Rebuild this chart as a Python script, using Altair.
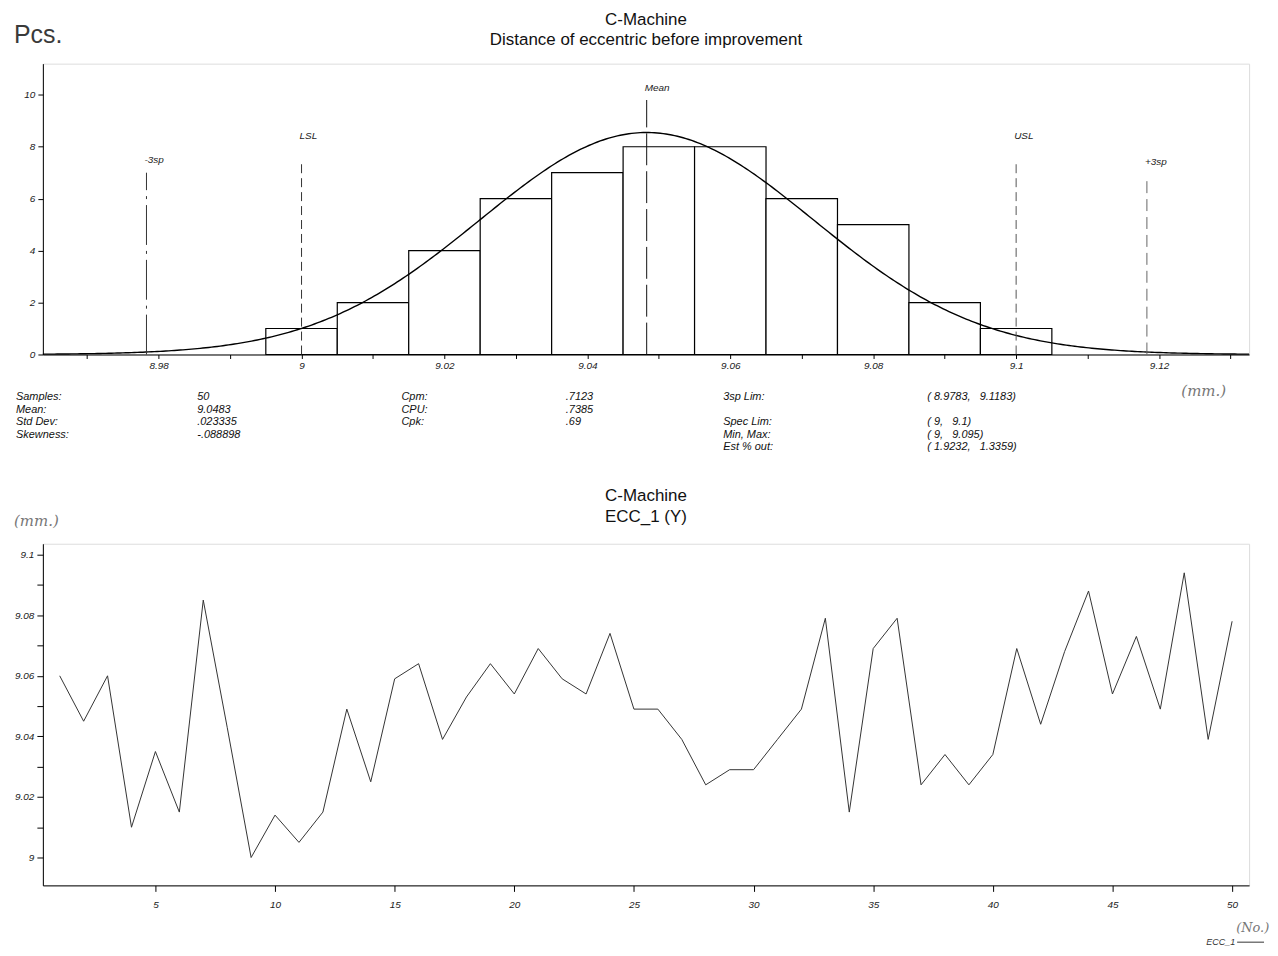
import altair as alt
import pandas as pd

# ---------------- data ----------------
BIN_CENTERS = [9.00, 9.01, 9.02, 9.03, 9.04, 9.05, 9.06, 9.07, 9.08, 9.09, 9.10]
BIN_COUNTS = [1, 2, 4, 6, 7, 8, 8, 6, 5, 2, 1]
BIN_WIDTH = 0.01
N_SAMPLES = 50
MEAN = 9.0483
STD_DEV = 0.023335

REF_NAMES = ["-3sp", "LSL", "Mean", "USL", "+3sp"]
REF_VALUES = [8.9783, 9.0, 9.0483, 9.1, 9.1183]

NB = "\u00a0"
STAT_NAMES_A = ["Samples:", "Mean:", "Std Dev:", "Skewness:"]
STAT_VALUES_A = ["50", "9.0483", ".023335", "-.088898"]
STAT_NAMES_B = ["Cpm:", "CPU:", "Cpk:"]
STAT_VALUES_B = [".7123", ".7385", ".69"]
STAT_NAMES_C = ["3sp Lim:", "Spec Lim:", "Min, Max:", "Est % out:"]
STAT_VALUES_C = [f"({NB}8.9783,{NB}{NB}{NB}9.1183)", f"({NB}9,{NB}{NB}{NB}9.1)",
                 f"({NB}9,{NB}{NB}{NB}9.095)", f"({NB}1.9232,{NB}{NB}{NB}1.3359)"]

HIST_X_TICKS = [8.97, 8.98, 8.99, 9.00, 9.01, 9.02, 9.03, 9.04, 9.05, 9.06,
                9.07, 9.08, 9.09, 9.10, 9.11, 9.12, 9.13]
HIST_Y_TICKS = [0, 1, 2, 3, 4, 5, 6, 7, 8, 9, 10, 11]

SAMPLE_NO = list(range(1, 51))
ECC_1 = [9.060, 9.045, 9.060, 9.010, 9.035, 9.015, 9.085, 9.043, 9.000, 9.014,
         9.005, 9.015, 9.049, 9.025, 9.059, 9.064, 9.039, 9.053, 9.064, 9.054,
         9.069, 9.059, 9.054, 9.074, 9.049, 9.049, 9.039, 9.024, 9.029, 9.029,
         9.039, 9.049, 9.079, 9.015, 9.069, 9.079, 9.024, 9.034, 9.024, 9.034,
         9.069, 9.044, 9.068, 9.088, 9.054, 9.073, 9.049, 9.094, 9.039, 9.078]
RUN_X_TICKS = [5, 10, 15, 20, 25, 30, 35, 40, 45, 50]
RUN_Y_TICKS = [9.00, 9.01, 9.02, 9.03, 9.04, 9.05, 9.06, 9.07, 9.08, 9.09, 9.10]

# ---------------- styles ----------------
FONT = "Liberation Sans"
HAND = "DejaVu Serif"
W = 1211
H1 = 292
H2 = 343
LH = 12.5
STAT_Y = 329

REF_STYLE = {
    "-3sp": dict(top=7.0, label_y=7.5, dash=[40, 6, 3, 6], color="#333"),
    "LSL": dict(top=7.5, label_y=8.4, dash=[9, 5], color="#333"),
    "Mean": dict(top=9.8, label_y=10.25, dash=[32, 6], color="#111"),
    "USL": dict(top=7.5, label_y=8.4, dash=[9, 5], color="#555"),
    "+3sp": dict(top=6.8, label_y=7.4, dash=[12, 6], color="#666"),
}

XS1 = alt.Scale(domain=[8.9638, 9.1326], nice=False, zero=False)
YS1 = alt.Scale(domain=[0, 11.2], nice=False, zero=False)
XS2 = alt.Scale(domain=[0.296, 50.71], nice=False, zero=False)
YS2 = alt.Scale(domain=[8.9908, 9.1036], nice=False, zero=False)

axis_common = dict(grid=False, labelFont=FONT, labelFontStyle="italic", labelFontSize=10,
                   labelColor="#222", tickColor="black", domainColor="black",
                   labelOverlap=False, labelFlush=False, title=None)

x_axis1 = alt.Axis(values=HIST_X_TICKS, tickSize=4, labelPadding=2,
                   labelExpr="round(datum.value*100) % 2 == 0 ? format(datum.value, '.2~f') : ''",
                   **axis_common)
y_axis1 = alt.Axis(values=HIST_Y_TICKS, tickSize=5, labelPadding=3,
                   labelExpr="datum.value % 2 == 0 ? datum.label : ''", **axis_common)
x_axis2 = alt.Axis(values=RUN_X_TICKS, tickSize=6, labelPadding=8, **axis_common)
y_axis2 = alt.Axis(values=RUN_Y_TICKS, tickSize=6, labelPadding=3,
                   labelExpr="round(datum.value*100) % 2 == 0 ? format(datum.value, '.2~f') : ''",
                   **axis_common)

one = pd.DataFrame({"_": [0]})


def text_block(lines, x, y, size=11, style="italic", weight="normal", align="left",
               baseline="top", line_height=LH, color="#111", font=FONT):
    return alt.Chart(one).mark_text(
        text=lines, align=align, baseline=baseline, font=font, fontSize=size,
        fontStyle=style, fontWeight=weight, lineHeight=line_height, color=color
    ).encode(x=alt.value(x), y=alt.value(y))


# ---------------- top: histogram ----------------
hist_df = pd.DataFrame({"center": BIN_CENTERS, "count": BIN_COUNTS})
bars = alt.Chart(hist_df).transform_calculate(
    lo=f"datum.center - {BIN_WIDTH / 2}", hi=f"datum.center + {BIN_WIDTH / 2}"
).mark_rect(fill="white", stroke="black", strokeWidth=1.2).encode(
    x=alt.X("lo:Q", scale=XS1, axis=x_axis1, title=None),
    x2="hi:Q",
    y=alt.Y("count:Q", scale=YS1, axis=y_axis1, title=None),
    y2=alt.datum(0),
)

curve = alt.Chart(alt.sequence(8.9638, 9.1327, 0.0004, as_="x")).transform_calculate(
    dens=f"{N_SAMPLES * BIN_WIDTH} / ({STD_DEV} * sqrt(2*PI)) * "
         f"exp(-0.5 * pow((datum.x - {MEAN}) / {STD_DEV}, 2))"
).mark_line(color="black", strokeWidth=1.4).encode(
    x=alt.X("x:Q", scale=XS1, title=None),
    y=alt.Y("dens:Q", scale=YS1, title=None),
)

ref_layers = []
for name, value in zip(REF_NAMES, REF_VALUES):
    st = REF_STYLE[name]
    d = pd.DataFrame({"name": [name], "value": [value]})
    ref_layers.append(
        alt.Chart(d).mark_rule(strokeDash=st["dash"], color=st["color"], strokeWidth=1).encode(
            x=alt.X("value:Q", scale=XS1, title=None),
            y=alt.datum(0),
            y2=alt.datum(st["top"]),
        )
    )
    ref_layers.append(
        alt.Chart(d).mark_text(align="left", baseline="middle", dx=-2, font=FONT,
                               fontStyle="italic", fontSize=10, color="#222").encode(
            x=alt.X("value:Q", scale=XS1, title=None),
            y=alt.datum(st["label_y"]),
            text="name:N",
        )
    )

top_texts = [
    text_block(["C-Machine", "Distance of eccentric before improvement"], W / 2, -52,
               size=17, style="normal", weight="normal", align="center", line_height=20,
               color="#111"),
    text_block(["Pcs."], -29, -29, size=25, style="normal", baseline="middle", color="#3a3a3a"),
    text_block(STAT_NAMES_A, -27, STAT_Y),
    text_block(STAT_VALUES_A, 155, STAT_Y),
    text_block(STAT_NAMES_B, 360, STAT_Y),
    text_block(STAT_VALUES_B, 525, STAT_Y),
    text_block(STAT_NAMES_C[:1], 683, STAT_Y),
    text_block(STAT_VALUES_C[:1], 888, STAT_Y),
    text_block(STAT_NAMES_C[1:], 683, STAT_Y + 2 * LH),
    text_block(STAT_VALUES_C[1:], 888, STAT_Y + 2 * LH),
    text_block(["(mm.)"], 1143, 329, size=15, style="italic", baseline="middle",
               color="#777", font=HAND),
]

top = alt.layer(bars, curve, *ref_layers, *top_texts).properties(width=W, height=H1)

# ---------------- bottom: run chart ----------------
run_df = pd.DataFrame({"no": SAMPLE_NO, "ecc": ECC_1})
run_line = alt.Chart(run_df).mark_line(color="#333", strokeWidth=1).encode(
    x=alt.X("no:Q", scale=XS2, axis=x_axis2, title=None),
    y=alt.Y("ecc:Q", scale=YS2, axis=y_axis2, title=None),
)

legend_line = alt.Chart(one).mark_rule(color="#333", strokeWidth=1).encode(
    x=alt.value(1199), x2=alt.value(1226), y=alt.value(400)
)

bottom_texts = [
    text_block(["C-Machine", "ECC_1 (Y)"], W / 2, -56, size=17, style="normal",
               weight="normal", align="center", line_height=21.5, color="#111"),
    text_block(["(mm.)"], -29, -23, size=15, style="italic", baseline="middle",
               color="#777", font=HAND),
    text_block(["(No.)"], 1198, 386, size=13, style="italic", baseline="middle",
               color="#777", font=HAND),
    text_block(["ECC_1"], 1168, 400, size=9, style="italic", baseline="middle", color="#333"),
]

bottom = alt.layer(run_line, legend_line, *bottom_texts).properties(width=W, height=H2)

chart = alt.vconcat(top, bottom, spacing=33).properties(
    padding={"left": 5, "top": 0, "right": 0, "bottom": 0}
).configure_view(stroke="black", strokeWidth=1).configure(font=FONT)

chart.save("out.html", embed_options={"renderer": "svg", "actions": False})
